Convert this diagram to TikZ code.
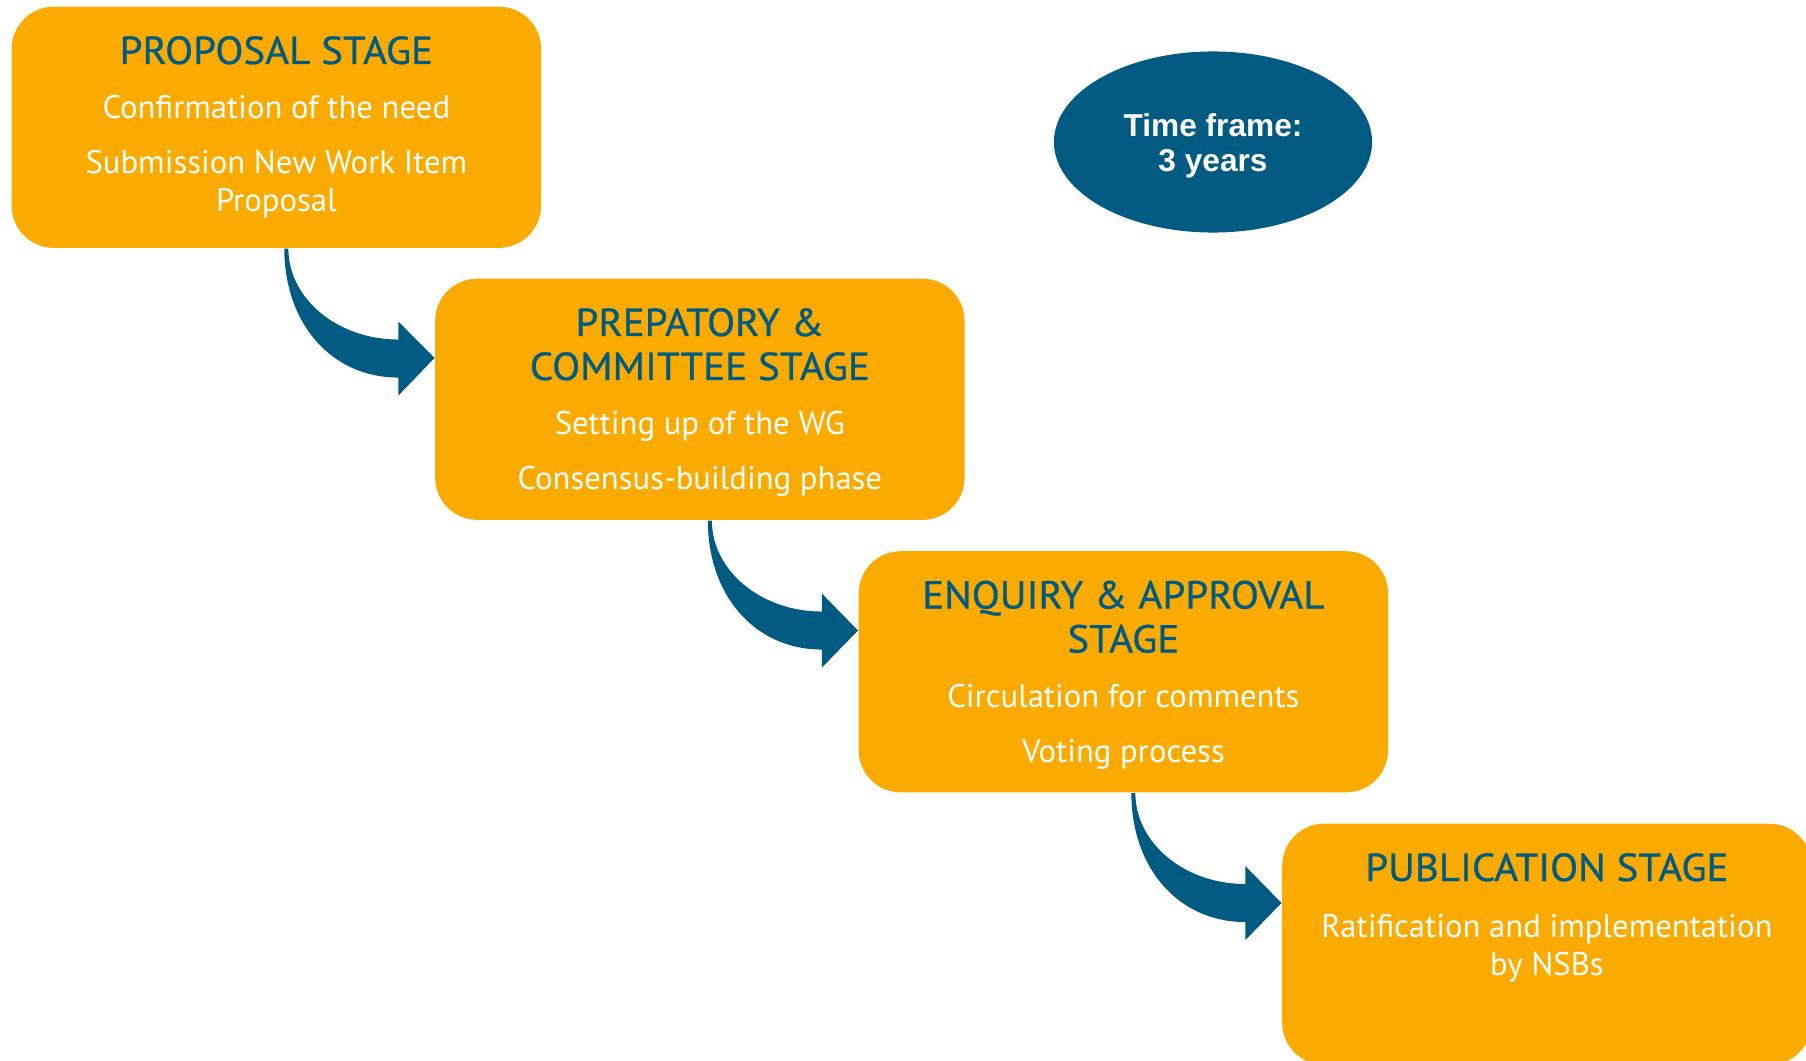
\documentclass[tikz,border=0pt]{standalone}
\usepackage{fontspec}
\setmainfont{PT Sans}
\newfontfamily\titlefont[FakeBold=0.7,FakeStretch=1.05]{PT Sans}
\newfontfamily\arialfont{Liberation Sans}
\usetikzlibrary{calc,shapes.geometric}
\definecolor{stageorange}{RGB}{251,170,0}
\definecolor{isoblue}{RGB}{0,90,130}
\newcommand{\stagearrow}[2]{%
  \fill[flowarrow] ($(#1.south)+(8,0)$) .. controls ($(#1.south)+(8,75)$) and ($(#1.south)+(55,129)$) .. ($(#1.south)+(122,129)$)
    -- ($(#1.south)+(122,147)$) -- ($(#2.north west)+(0,80)$) -- ($(#1.south)+(122,73)$) -- ($(#1.south)+(122,91)$)
    .. controls ($(#1.south)+(61,91)$) and ($(#1.south)+(12,50)$) .. ($(#1.south)+(12,0)$) -- cycle;}
\begin{document}
\begin{tikzpicture}[x=0.01cm,y=-0.01cm,
  stagebox/.style={rectangle, rounded corners=0.42cm, fill=stageorange, minimum width=5.29cm, minimum height=2.41cm, inner sep=0pt, anchor=north west},
  stagetitle/.style={anchor=base, inner sep=0pt, text=isoblue, font=\titlefont\fontsize{11.1}{13}\selectfont},
  stagetext/.style={anchor=base, inner sep=0pt, text=white, font=\fontsize{9.3}{11}\selectfont},
  frametext/.style={anchor=base, inner sep=0pt, text=white, font=\arialfont\bfseries\fontsize{9}{11}\selectfont},
  flowarrow/.style={fill=isoblue}
]
\clip (0,0) rectangle (1806,1061);
\fill[white] (0,0) rectangle (1806,1061);
% boxes
\node[stagebox] (b1) at (11,6) {};
\node[stagebox] (b2) at (434.5,278) {};
\node[stagebox] (b3) at (858,550.5) {};
\node[stagebox] (b4) at (1281.5,823) {};
% arrows
\stagearrow{b1}{b2}
\stagearrow{b2}{b3}
\stagearrow{b3}{b4}
% box 1
\node[stagetitle] (b1t) at ($(b1.north)+(0,58)$) {PROPOSAL STAGE};
\node[stagetext] (b1a) at ($(b1.north)+(0,113)$) {Confirmation of the need};
\node[stagetext] (b1b) at ($(b1.north)+(0,168)$) {Submission New Work Item};
\node[stagetext] (b1c) at ($(b1.north)+(0,206)$) {Proposal};
% box 2
\node[stagetitle] (b2t) at ($(b2.north)+(0,58)$) {PREPATORY \&};
\node[stagetitle] (b2u) at ($(b2.north)+(0,102)$) {COMMITTEE STAGE};
\node[stagetext] (b2a) at ($(b2.north)+(0,157)$) {Setting up of the WG};
\node[stagetext] (b2b) at ($(b2.north)+(0,212)$) {Consensus-building phase};
% box 3
\node[stagetitle] (b3t) at ($(b3.north)+(0,58)$) {ENQUIRY \& APPROVAL};
\node[stagetitle] (b3u) at ($(b3.north)+(0,102)$) {STAGE};
\node[stagetext] (b3a) at ($(b3.north)+(0,157)$) {Circulation for comments};
\node[stagetext] (b3b) at ($(b3.north)+(0,212)$) {Voting process};
% box 4
\node[stagetitle] (b4t) at ($(b4.north)+(0,58)$) {PUBLICATION STAGE};
\node[stagetext] (b4a) at ($(b4.north)+(0,114)$) {Ratification and implementation};
\node[stagetext] (b4b) at ($(b4.north)+(0,152)$) {by NSBs};
% time frame
\node[ellipse, fill=isoblue, minimum width=3.18cm, minimum height=1.81cm, inner sep=0pt] (tf) at (1213,142) {};
\node[frametext] (tfa) at (1213,137) {Time frame:};
\node[frametext] (tfb) at (1213,172) {3 years};
\end{tikzpicture}
\end{document}
